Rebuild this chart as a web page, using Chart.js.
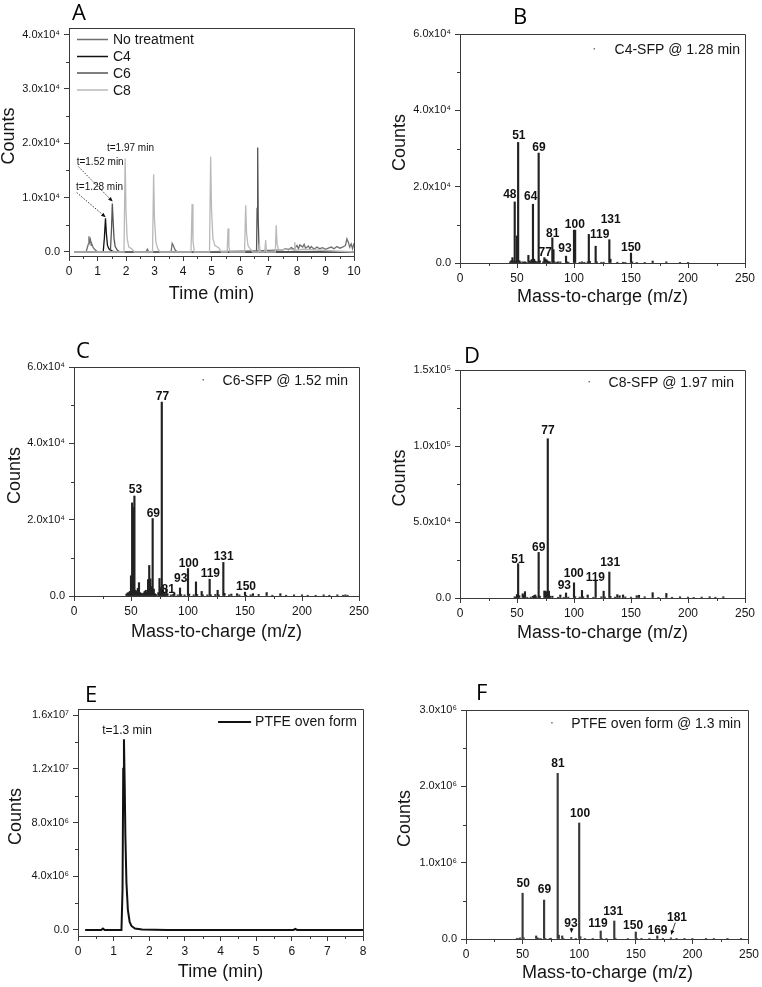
<!DOCTYPE html>
<html><head><meta charset="utf-8">
<script src="https://cdn.jsdelivr.net/npm/chart.js@4/dist/chart.umd.min.js"></script>
<style>
html,body{margin:0;padding:0;background:#fff;}
body{width:762px;height:987px;position:relative;overflow:hidden;}
canvas{position:absolute;}
</style></head><body>
<script>
// ================= DATA =================
// Panel A – chromatograms (time in min, counts)
const timeNoTreat   = [0.2,0.6,0.68,0.7,0.72,0.75,0.78,0.8,0.85,0.9,1.0,2.0,2.7,2.75,2.8,3.0,3.58,3.62,3.66,3.72,3.8,4.5,5.5,6.5,7.0,7.5,7.6,7.7,7.8,7.9,8.0,8.05,8.1,8.2,8.25,8.3,8.4,8.45,8.5,8.6,8.7,8.8,8.9,9.0,9.1,9.2,9.3,9.4,9.5,9.6,9.7,9.75,9.8,9.85,9.9,9.95,10];
const countsNoTreat = [0,0,1500,2900,1800,2300,1200,1500,800,500,0,0,0,500,0,0,0,1600,1200,400,0,0,100,200,300,400,600,400,800,500,1200,600,1300,900,1400,700,1100,600,1000,500,900,600,800,500,700,900,600,1000,700,900,1200,2400,1800,900,1500,600,1600];
const timeC4   = [0.2,1.2,1.24,1.28,1.31,1.35,1.4,1.5,1.6,10];
const countsC4 = [0,0,2500,6200,3500,1200,600,200,0,0];
const timeC6   = [0.2,1.45,1.49,1.52,1.55,1.58,1.62,1.7,1.8,6.58,6.6,6.62,6.64,6.67,10];
const countsC6 = [0,0,4000,8900,5500,2500,1000,300,0,0,8000,19200,6000,0,0];
const timeC8   = [0.2,1.93,1.97,2.0,2.04,2.1,2.2,2.3,2.93,2.97,3.0,3.05,3.12,3.2,4.28,4.32,4.35,4.4,4.93,4.97,5.0,5.05,5.12,5.25,5.35,5.55,5.58,5.61,5.65,6.16,6.2,6.23,6.28,6.35,6.45,6.66,6.68,6.71,6.87,6.9,6.93,7.24,7.27,7.3,7.36,7.5,7.7,7.9,7.92,7.95,8.2,10];
const countsC8 = [0,0,17200,7500,2500,900,600,0,0,14300,6000,1800,500,0,0,8800,2000,0,0,17500,8000,2500,1200,800,0,0,4300,900,0,0,8600,3500,1200,600,0,0,1500,0,0,2200,0,0,4900,1500,300,400,600,300,1800,300,500,0];
const seriesNamesA = ['No treatment','C4','C6','C8'];
const xTicksA = [0,1,2,3,4,5,6,7,8,9,10];
const yTicksA = [0,10000,20000,30000,40000];

// Panel B – C4-SFP @ 1.28 min
const mzB     = [44,45,46,47,48,49,50,51,52,53,55,56,57,58,60,61,62,63,64,65,66,67,68,69,70,73,74,75,76,77,78,79,81,82,83,85,86,88,93,94,95,100,101,105,107,109,112,113,114,119,120,124,126,131,132,138,143,145,150,151,155,162,169,181,193,200];
const countsB = [300,600,1400,500,16000,400,7100,31600,600,300,300,200,300,200,2000,400,600,900,15400,1000,500,300,300,28800,600,300,1400,1000,800,500,300,300,6600,3500,300,200,300,300,1800,300,200,8600,8600,200,300,200,300,7500,400,4400,300,200,200,6100,1000,200,200,100,2600,300,100,100,500,300,100,100];

// Panel C – C6-SFP @ 1.52 min
const mzC     = [46,47,48,49,50,51,52,53,54,55,56,57,58,59,60,61,62,63,64,65,66,67,68,69,70,71,72,74,75,76,77,78,79,80,81,82,85,87,88,91,93,94,97,100,101,105,107,108,112,113,117,119,120,124,126,127,131,132,136,138,143,145,150,151,155,157,162,169,174,181,186,193,200,205,212,219,224,231,236,238,240];
const countsC = [500,800,900,1200,5300,24400,23200,26200,1500,1200,2000,3500,900,700,500,800,1200,1500,1000,4300,8000,4500,2500,20300,1800,600,400,900,4600,2200,50800,1500,800,500,1900,600,300,400,800,300,2100,400,300,7200,500,300,3700,400,1200,300,300,4400,300,400,1500,300,8800,700,300,500,600,300,1000,200,300,600,400,900,200,600,200,300,300,200,200,300,200,300,200,300,200];

// Panel D – C8-SFP @ 1.97 min
const mzD     = [48,49,50,51,52,55,56,57,59,62,64,65,66,67,69,70,74,75,76,77,78,79,81,86,88,91,93,95,100,101,105,107,108,112,117,119,124,126,127,131,132,136,138,140,143,145,150,155,157,162,169,174,181,186,193,200,205,212,219,224,231];
const countsD = [800,500,2300,22600,1500,2800,1800,4200,500,600,1200,1500,2000,800,30000,1200,4600,4500,4000,104800,4500,1200,1200,500,2000,500,3300,600,10000,800,600,5000,800,2000,500,11000,800,4500,700,17100,1000,600,2200,1500,2000,700,600,1500,1800,800,3500,400,3000,500,800,600,400,600,800,500,800];

// Panel E – PTFE oven form chromatogram
const timeE   = [0.2,0.65,0.7,0.75,1.22,1.25,1.27,1.29,1.31,1.33,1.36,1.4,1.45,1.5,1.6,1.8,2.5,6.05,6.1,6.15,8];
const countsE = [0,0,100000,0,0,3000000,12000000,14200000,11000000,7000000,3500000,1500000,600000,300000,100000,30000,0,0,80000,0,0];
const xTicksE = [0,1,2,3,4,5,6,7,8];
const yTicksE = [0,4000000,8000000,12000000,16000000];

// Panel F – PTFE oven form @ 1.3 min
const mzF     = [45,47,48,50,51,62,63,64,66,69,70,74,75,81,82,85,86,93,97,100,101,105,112,119,120,124,131,132,143,150,151,155,162,169,174,181,186,193,200,212,219,231,243];
const countsF = [10000,10000,15000,600000,15000,40000,15000,10000,8000,510000,10000,8000,10000,2170000,50000,40000,8000,20000,5000,1520000,30000,5000,8000,105000,6000,5000,236000,10000,6000,92000,5000,4000,5000,40000,3000,15000,3000,4000,5000,3000,5000,4000,3000];

const xTicksMS = [0,50,100,150,200,250];
const yTicksB = [0,20000,40000,60000];
const yTicksC = [0,20000,40000,60000];
const yTicksD = [0,50000,100000,150000];
const yTicksF = [0,1000000,2000000,3000000];

// Peak labels: [text, m/z anchor, count anchor]
const peakLabelsB = [['48',43.7,17000],['51',51.6,32400],['69',69.2,29300],['64',62.0,16600],['81',81.3,6900],['77',74.7,1800],['93',92.1,3000],['100',100.7,9100],['119',122.6,6500],['131',132.2,10400],['150',150,3200]];
const peakLabelsC = [['77',77.6,51400],['53',53.9,26900],['69',69.6,20600],['100',100.6,7700],['93',93.6,3600],['81',82.6,700],['119',119.6,5100],['131',131.3,9400],['150',150.9,1600]];
const peakLabelsD = [['77',77.2,107900],['51',50.9,22800],['69',69.1,31100],['93',91.5,5700],['100',99.8,13600],['119',118.7,11400],['131',131.7,21100]];
const peakLabelsF = [['81',81.2,2250000],['100',100.8,1600000],['50',50.6,680000],['69',69.3,600000],['93',92.7,160000],['119',116.6,160000],['131',130.0,310000],['150',147.6,130000],['169',169.2,70000],['181',186.4,230000]];

// ================= STYLE / HELPERS =================
const FONT = '"Liberation Sans", Arial, Helvetica, sans-serif';
const LETTER_FONT = '"Open Sans", "Noto Sans", sans-serif';
const AXIS = '#3a3a3a';
const TXT = '#151515';
const SUP = {'0':'\u2070','1':'\u00b9','2':'\u00b2','3':'\u00b3','4':'\u2074','5':'\u2075','6':'\u2076','7':'\u2077','8':'\u2078','9':'\u2079','-':'\u207b'};
function fmtTick(v){
  if (Math.abs(v) < 1e-12) return '0.0';
  const e = Math.floor(Math.log10(Math.abs(v)) + 1e-9);
  const m = v / Math.pow(10, e);
  return m.toFixed(1) + 'x10' + String(e).split('').map(c => SUP[c]).join('');
}
const pts = (xs, ys) => xs.map((x, i) => ({x: x, y: ys[i]}));

function line(ctx, x1, y1, x2, y2){ ctx.beginPath(); ctx.moveTo(x1, y1); ctx.lineTo(x2, y2); ctx.stroke(); }

function makeDecor(o){
  return {
    id: 'decor' + o.letter,
    afterDraw(chart){
      const ctx = chart.ctx, ca = chart.chartArea, xs = chart.scales.x, ys = chart.scales.y;
      const ox = o.cell[0], oy = o.cell[1];
      ctx.save();
      // frame (top + right)
      ctx.strokeStyle = AXIS; ctx.lineWidth = 1; ctx.setLineDash([]);
      const top = Math.floor(ca.top) + 0.5, right = Math.floor(ca.right) + 0.5;
      line(ctx, ca.left, top, right, top);
      line(ctx, right, top, right, ca.bottom);
      // minor ticks
      for (let i = 0; i < o.xTicks.length - 1; i++){
        const px = Math.round(xs.getPixelForValue((o.xTicks[i] + o.xTicks[i+1]) / 2)) + 0.5;
        line(ctx, px, ca.bottom, px, ca.bottom + 3);
      }
      for (let i = 0; i < o.yTicks.length - 1; i++){
        const py = Math.round(ys.getPixelForValue((o.yTicks[i] + o.yTicks[i+1]) / 2)) + 0.5;
        line(ctx, ca.left - 3, py, ca.left, py);
      }
      // panel letter
      ctx.fillStyle = '#000';
      ctx.font = '22px ' + LETTER_FONT;
      ctx.textAlign = 'left'; ctx.textBaseline = 'alphabetic';
      ctx.fillText(o.letter, o.letterPos[0] - ox, o.letterPos[1] - oy);
      // axis titles
      ctx.fillStyle = TXT;
      ctx.font = '18px ' + FONT;
      ctx.textAlign = 'center'; ctx.textBaseline = 'middle';
      ctx.fillText(o.xTitle, (ca.left + ca.right) / 2, o.xTitleY - oy);
      ctx.save();
      ctx.translate(o.yTitleX - ox, (ca.top + ca.bottom) / 2 - 6);
      ctx.rotate(-Math.PI / 2);
      ctx.fillText('Counts', 0, 0);
      ctx.restore();
      if (o.draw) o.draw(ctx, ca, xs, ys, ox, oy, chart);
      ctx.restore();
    }
  };
}

function makePanel(o){
  const [cx, cy, cw, ch] = o.cell;
  const [L, T, R, B] = o.frame;
  const canvas = document.createElement('canvas');
  canvas.width = cw; canvas.height = ch;
  canvas.style.left = cx + 'px'; canvas.style.top = cy + 'px';
  canvas.style.width = cw + 'px'; canvas.style.height = ch + 'px';
  document.body.appendChild(canvas);
  const yW = L - cx, xH = cy + ch - B;
  const gridCfg = {display: true, drawOnChartArea: false, drawTicks: true, tickLength: 5, color: AXIS, lineWidth: 1, offset: false};
  new Chart(canvas, {
    type: o.type,
    data: {datasets: o.datasets},
    options: {
      responsive: false, animation: false, events: [],
      layout: {padding: {top: T - cy, right: cx + cw - R, bottom: 0, left: 0}},
      plugins: {legend: {display: false}, tooltip: {enabled: false}},
      scales: {
        x: {type: 'linear', min: o.xMin, max: o.xMax, offset: false,
            afterBuildTicks: s => { s.ticks = o.xTicks.map(v => ({value: v})); },
            afterFit: s => { s.height = xH; },
            ticks: {font: {family: FONT, size: 12}, color: TXT, padding: 3, maxRotation: 0, autoSkip: false, callback: v => String(v)},
            grid: gridCfg, border: {display: true, color: AXIS, width: 1}},
        y: {type: 'linear', min: o.yMin, max: o.yMax,
            afterBuildTicks: s => { s.ticks = o.yTicks.map(v => ({value: v})); },
            afterFit: s => { s.width = yW; },
            ticks: {font: {family: FONT, size: 11}, color: TXT, padding: 4, autoSkip: false, callback: v => fmtTick(v)},
            grid: gridCfg, border: {display: true, color: AXIS, width: 1}}
      }
    },
    plugins: [makeDecor(o)]
  });
}

function drawPeakLabels(labels){
  return function(ctx, ca, xs, ys){
    ctx.fillStyle = '#111';
    ctx.font = 'bold 12px ' + FONT;
    ctx.textAlign = 'center'; ctx.textBaseline = 'alphabetic';
    labels.forEach(l => ctx.fillText(l[0], xs.getPixelForValue(l[1]), ys.getPixelForValue(l[2])));
  };
}
function drawSpecLegend(ctx, ca, text, rightInset, cyOff, dotOff){
  ctx.fillStyle = TXT;
  ctx.font = '14px ' + FONT;
  ctx.textAlign = 'right'; ctx.textBaseline = 'middle';
  const xr = ca.right - rightInset, y = ca.top + cyOff;
  ctx.fillText(text, xr, y);
  const w = ctx.measureText(text).width;
  ctx.fillStyle = '#777';
  ctx.fillRect(xr - w - dotOff, y - 2, 1.5, 1.5);
}
function arrow(ctx, xs, ys, a, dashed){
  const x1 = xs.getPixelForValue(a[0]), y1 = ys.getPixelForValue(a[1]);
  const x2 = xs.getPixelForValue(a[2]), y2 = ys.getPixelForValue(a[3]);
  const ang = Math.atan2(y2 - y1, x2 - x1), hl = 5;
  ctx.strokeStyle = '#222'; ctx.lineWidth = 0.9;
  ctx.setLineDash(dashed ? [1.5, 1.5] : []);
  line(ctx, x1, y1, x2 - hl * 0.6 * Math.cos(ang), y2 - hl * 0.6 * Math.sin(ang));
  ctx.setLineDash([]);
  ctx.fillStyle = '#111';
  ctx.beginPath();
  ctx.moveTo(x2, y2);
  ctx.lineTo(x2 - hl * Math.cos(ang - 0.4), y2 - hl * Math.sin(ang - 0.4));
  ctx.lineTo(x2 - hl * Math.cos(ang + 0.4), y2 - hl * Math.sin(ang + 0.4));
  ctx.closePath(); ctx.fill();
}

function barSet(label, mz, counts, color){
  return {label: label, data: pts(mz, counts), backgroundColor: color, borderWidth: 0, barThickness: 1.5, grouped: false};
}

// ================= PANEL A =================
const colorsA = ['#6f6f6f', '#111111', '#555555', '#b9b9b9'];
const annotA = [['t=1.97 min', 1.333, 18490], ['t=1.52 min', 0.27, 15980], ['t=1.28 min', 0.246, 11430]];
const arrowsA = [[0.326, 15720, 1.533, 9270], [0.27, 10930, 1.288, 6400]];
makePanel({
  letter: 'A', letterPos: [72, 20], cell: [0, 0, 381, 305], frame: [69, 28, 354, 256],
  type: 'line', xMin: 0, xMax: 10, yMin: -740, yMax: 41200, xTicks: xTicksA, yTicks: yTicksA,
  xTitle: 'Time (min)', xTitleY: 294, yTitleX: 9,
  datasets: [
    {label: seriesNamesA[3], data: pts(timeC8, countsC8), borderColor: colorsA[3], borderWidth: 1.3, pointRadius: 0, tension: 0, fill: false},
    {label: seriesNamesA[0], data: pts(timeNoTreat, countsNoTreat), borderColor: colorsA[0], borderWidth: 1.3, pointRadius: 0, tension: 0, fill: false},
    {label: seriesNamesA[2], data: pts(timeC6, countsC6), borderColor: colorsA[2], borderWidth: 1.3, pointRadius: 0, tension: 0, fill: false},
    {label: seriesNamesA[1], data: pts(timeC4, countsC4), borderColor: colorsA[1], borderWidth: 1.3, pointRadius: 0, tension: 0, fill: false}
  ],
  draw(ctx, ca, xs, ys, ox, oy){
    // legend
    const rows = [39.5, 56.5, 73, 90];
    ctx.font = '14px ' + FONT; ctx.textAlign = 'left'; ctx.textBaseline = 'middle';
    seriesNamesA.forEach((n, i) => {
      ctx.strokeStyle = colorsA[i]; ctx.lineWidth = 1.5;
      line(ctx, 77 - ox, rows[i] - oy, 108 - ox, rows[i] - oy);
      ctx.fillStyle = TXT; ctx.fillText(n, 113 - ox, rows[i] - oy + 1);
    });
    // annotations
    ctx.font = '10px ' + FONT; ctx.textBaseline = 'alphabetic'; ctx.fillStyle = '#111';
    annotA.forEach(a => ctx.fillText(a[0], xs.getPixelForValue(a[1]), ys.getPixelForValue(a[2])));
    arrowsA.forEach(a => arrow(ctx, xs, ys, a, true));
  }
});

// ================= PANEL B =================
makePanel({
  letter: 'B', letterPos: [513, 24], cell: [381, 0, 381, 305], frame: [460, 34, 745, 263],
  type: 'bar', xMin: 0, xMax: 250, yMin: 0, yMax: 60000, xTicks: xTicksMS, yTicks: yTicksB,
  xTitle: 'Mass-to-charge (m/z)', xTitleY: 297, yTitleX: 400,
  datasets: [barSet('C4-SFP @ 1.28 min', mzB, countsB, '#222')],
  draw(ctx, ca, xs, ys){
    drawPeakLabels(peakLabelsB)(ctx, ca, xs, ys);
    drawSpecLegend(ctx, ca, 'C4-SFP @ 1.28 min', 5, 16, 21);
  }
});

// ================= PANEL C =================
makePanel({
  letter: 'C', letterPos: [76, 358], cell: [0, 305, 381, 340], frame: [74, 367, 359, 596],
  type: 'bar', xMin: 0, xMax: 250, yMin: 0, yMax: 60000, xTicks: xTicksMS, yTicks: yTicksC,
  xTitle: 'Mass-to-charge (m/z)', xTitleY: 632, yTitleX: 15,
  datasets: [barSet('C6-SFP @ 1.52 min', mzC, countsC, '#222')],
  draw(ctx, ca, xs, ys){
    drawPeakLabels(peakLabelsC)(ctx, ca, xs, ys);
    drawSpecLegend(ctx, ca, 'C6-SFP @ 1.52 min', 11, 14, 20);
  }
});

// ================= PANEL D =================
makePanel({
  letter: 'D', letterPos: [464, 363], cell: [381, 305, 381, 340], frame: [460, 370, 745, 598],
  type: 'bar', xMin: 0, xMax: 250, yMin: 0, yMax: 150000, xTicks: xTicksMS, yTicks: yTicksD,
  xTitle: 'Mass-to-charge (m/z)', xTitleY: 633, yTitleX: 400,
  datasets: [barSet('C8-SFP @ 1.97 min', mzD, countsD, '#222')],
  draw(ctx, ca, xs, ys){
    drawPeakLabels(peakLabelsD)(ctx, ca, xs, ys);
    drawSpecLegend(ctx, ca, 'C8-SFP @ 1.97 min', 11, 13, 20);
  }
});

// ================= PANEL E =================
makePanel({
  letter: 'E', letterPos: [85, 702], cell: [0, 645, 381, 342], frame: [78, 709, 363, 936],
  type: 'line', xMin: 0, xMax: 8, yMin: -450000, yMax: 16450000, xTicks: xTicksE, yTicks: yTicksE,
  xTitle: 'Time (min)', xTitleY: 972, yTitleX: 16,
  datasets: [{label: 'PTFE oven form', data: pts(timeE, countsE), borderColor: '#111', borderWidth: 2, pointRadius: 0, tension: 0, fill: false}],
  draw(ctx, ca, xs, ys, ox, oy){
    ctx.font = '14px ' + FONT; ctx.textAlign = 'right'; ctx.textBaseline = 'middle';
    const xr = ca.right - 6, y = ca.top + 13;
    ctx.fillStyle = TXT; ctx.fillText('PTFE oven form', xr, y);
    const w = ctx.measureText('PTFE oven form').width;
    ctx.strokeStyle = '#111'; ctx.lineWidth = 2;
    line(ctx, xr - w - 37, y, xr - w - 4, y);
    ctx.font = '12px ' + FONT; ctx.textAlign = 'center'; ctx.textBaseline = 'alphabetic'; ctx.fillStyle = '#111';
    ctx.fillText('t=1.3 min', xs.getPixelForValue(1.375), ys.getPixelForValue(14590000));
  }
});

// ================= PANEL F =================
const arrowsF = [[184.9, 214000, 181.1, 52000], [93.3, 144000, 93.1, 79000]];
makePanel({
  letter: 'F', letterPos: [476, 700], cell: [381, 645, 381, 342], frame: [466, 710, 750, 939],
  type: 'bar', xMin: 0, xMax: 250, yMin: 0, yMax: 3000000, xTicks: xTicksMS, yTicks: yTicksF,
  xTitle: 'Mass-to-charge (m/z)', xTitleY: 973, yTitleX: 405,
  datasets: [barSet('PTFE oven form @ 1.3 min', mzF, countsF, '#3a3a3a')],
  draw(ctx, ca, xs, ys){
    drawPeakLabels(peakLabelsF)(ctx, ca, xs, ys);
    drawSpecLegend(ctx, ca, 'PTFE oven form @ 1.3 min', 8, 14, 20);
    arrowsF.forEach(a => arrow(ctx, xs, ys, a, false));
  }
});
</script>
</body></html>
